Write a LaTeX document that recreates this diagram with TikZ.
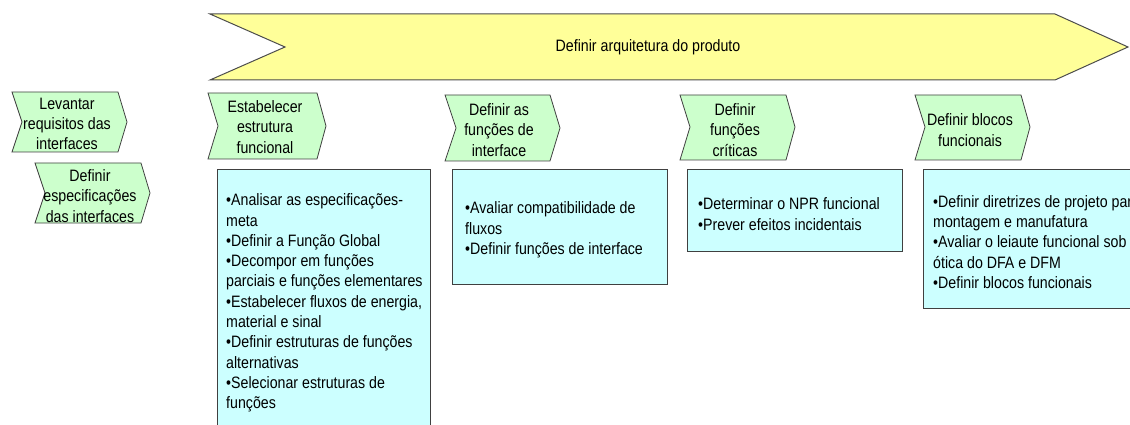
\documentclass[tikz,border=0pt]{standalone}
\usepackage{fontspec}
\setmainfont{Liberation Sans}[FakeStretch=0.86]
\definecolor{chevgreen}{RGB}{204,255,204}
\definecolor{boxcyan}{RGB}{204,255,255}
\definecolor{arrowyellow}{RGB}{255,255,153}
\begin{document}
\begin{tikzpicture}[x=1pt,y=-1pt,
  txt/.style={font=\fontsize{16.5}{20.3}\selectfont, inner sep=0pt, align=center},
  btxt/.style={font=\fontsize{16.5}{20.3}\selectfont, inner sep=0pt, align=left, anchor=west},
  chev/.style={draw=black!75, line width=0.8pt, fill=chevgreen, line join=miter},
  infobox/.style={draw=black!75, line width=0.9pt, fill=boxcyan, rectangle, inner sep=0pt, anchor=north west},
  bigarrow/.style={draw=black!70, line width=1pt, fill=arrowyellow, line join=miter}]
\useasboundingbox (0,0) rectangle (1130,425);

% big arrow
\draw[bigarrow] (210,14) -- (1055,14) -- (1128,47) -- (1055,80) -- (210,80) -- (285,47) -- cycle;
\node[txt] (arq) at (648,47) {Definir arquitetura do produto};

% chevrons
\draw[chev] (12,92) -- (118,92) -- (127,122) -- (118,152) -- (12,152) -- (22,122) -- cycle;
\node[txt] (lev) at (67,124) {Levantar\\requisitos das\\interfaces};

\draw[chev] (35,163) -- (141,163) -- (150,193) -- (141,223) -- (35,223) -- (45,193) -- cycle;
\node[txt] (esp) at (90,196) {Definir\\especificações\\das interfaces};

\draw[chev] (208,93) -- (317,93) -- (326,126) -- (317,159) -- (208,159) -- (218,126) -- cycle;
\node[txt] (est) at (265,127) {Estabelecer\\estrutura\\funcional};

\draw[chev] (445,95) -- (550,95) -- (560,128) -- (550,161) -- (445,161) -- (456,128) -- cycle;
\node[txt] (fint) at (499,130) {Definir as\\funções de\\interface};

\draw[chev] (680,95) -- (786,95) -- (795,127) -- (786,160) -- (680,160) -- (690,127) -- cycle;
\node[txt] (fcrit) at (735,130) {Definir\\funções\\críticas};

\draw[chev] (915,95) -- (1021,95) -- (1030,127) -- (1021,160) -- (915,160) -- (925,127) -- cycle;
\node[txt] (blocos) at (970,130) {Definir blocos\\funcionais};

% info boxes
\node[infobox, minimum width=213pt, minimum height=262pt] (b1) at (217,169) {};
\node[btxt] (t1) at (226,303) {•Analisar as especificações-\\meta\\•Definir a Função Global\\•Decompor em funções\\parciais e funções elementares\\•Estabelecer fluxos de energia,\\material e sinal\\•Definir estruturas de funções\\alternativas\\•Selecionar estruturas de\\funções};

\node[infobox, minimum width=215pt, minimum height=115pt] (b2) at (452,169) {};
\node[btxt] (t2) at (465,230) {•Avaliar compatibilidade de\\fluxos\\•Definir funções de interface};

\node[infobox, minimum width=215pt, minimum height=82pt] (b3) at (687,169) {};
\node[btxt] (t3) at (698,214) {•Determinar o NPR funcional\\•Prever efeitos incidentais};

\node[infobox, minimum width=230pt, minimum height=139pt] (b4) at (923,169) {};
\node[btxt] (t4) at (933,242) {•Definir diretrizes de projeto para\\montagem e manufatura\\•Avaliar o leiaute funcional sob a\\ótica do DFA e DFM\\•Definir blocos funcionais};
\end{tikzpicture}
\end{document}
